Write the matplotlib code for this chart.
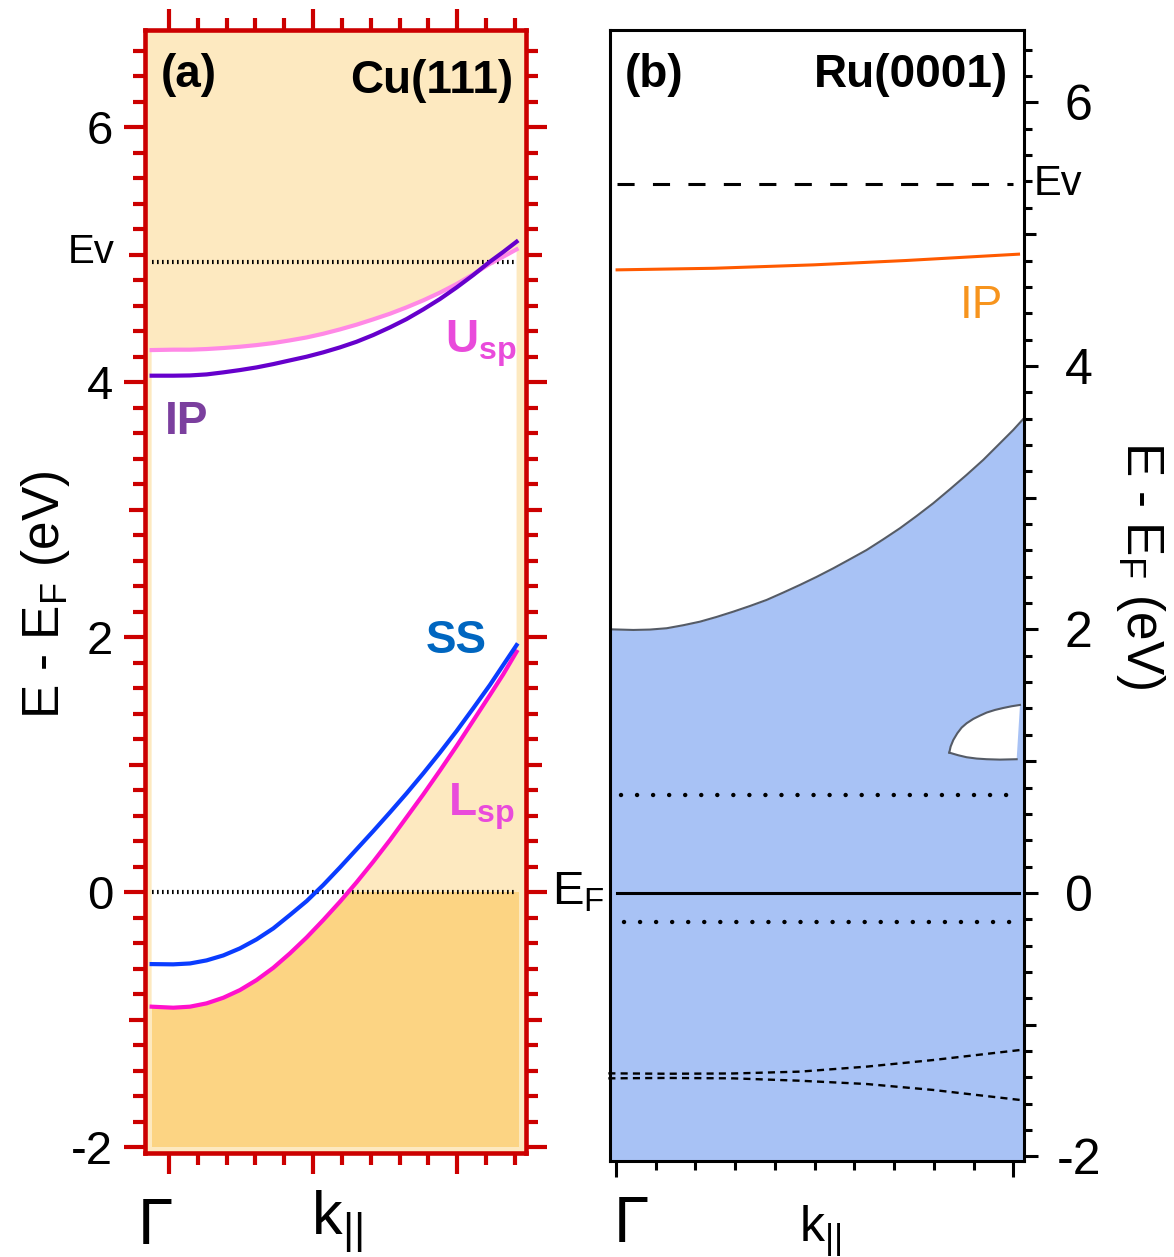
import numpy as np
import matplotlib.pyplot as plt
import matplotlib.transforms as mtransforms
from matplotlib.ticker import MultipleLocator

plt.rcParams['font.family'] = ['Liberation Sans', 'DejaVu Sans']
plt.rcParams['axes.unicode_minus'] = False
plt.rcParams['mathtext.fontset'] = 'custom'
plt.rcParams['mathtext.rm'] = 'Liberation Sans'

# ---- (a) Cu(111): bands (k in arb. units, Gamma = 0)
k_a = [-0.120, 0.030, 0.146, 0.261, 0.377, 0.492, 0.608, 0.724, 0.839, 0.955, 1.070, 1.186,
       1.301, 1.417, 1.533, 1.648, 1.764, 1.879, 1.995, 2.110, 2.226, 2.318, 2.411]
usp_e = [4.251, 4.254, 4.254, 4.259, 4.267, 4.277, 4.290, 4.306, 4.327, 4.350, 4.379, 4.413,
         4.450, 4.492, 4.536, 4.586, 4.641, 4.701, 4.769, 4.845, 4.928, 4.983, 5.041]
ipa_e = [4.050, 4.050, 4.052, 4.060, 4.076, 4.094, 4.115, 4.141, 4.170, 4.199, 4.233, 4.272,
         4.316, 4.369, 4.429, 4.494, 4.570, 4.651, 4.742, 4.839, 4.944, 5.020, 5.101]
ss_e = [-0.565, -0.567, -0.560, -0.536, -0.497, -0.442, -0.371, -0.285, -0.180, -0.071, 0.055,
        0.193, 0.335, 0.478, 0.625, 0.774, 0.931, 1.093, 1.263, 1.441, 1.624, 1.780, 1.937]
lsp_e = [-0.899, -0.907, -0.899, -0.873, -0.829, -0.769, -0.690, -0.594, -0.481, -0.356, -0.220,
         -0.076, 0.076, 0.238, 0.408, 0.586, 0.766, 0.952, 1.145, 1.344, 1.545, 1.707, 1.885]

ev_a = 4.94
ref_line_k_a = [-0.12, 2.40]
inner_k_a = [-0.12, 2.43]     # extent of the bulk-projected region
occ_e_a = [-2.0, 0.0]         # occupied part (below E_F)

# ---- (b) Ru(0001)
band_k = [-0.0148, 0.0439, 0.0858, 0.1277, 0.1696, 0.2116, 0.2535, 0.2954, 0.3374, 0.3793,
          0.4212, 0.4632, 0.5051, 0.5470, 0.5889, 0.6309, 0.6728, 0.7147, 0.7567, 0.7986,
          0.8405, 0.8824, 0.9244, 0.9663, 0.9998, 1.0267]
band_e = [2.001, 1.996, 1.999, 2.009, 2.032, 2.059, 2.095, 2.135, 2.178, 2.224,
          2.280, 2.338, 2.399, 2.464, 2.533, 2.603, 2.684, 2.768, 2.861, 2.958,
          3.064, 3.173, 3.287, 3.413, 3.514, 3.603]

pocket_up_k = [0.8388, 0.8422, 0.8489, 0.8590, 0.8699, 0.8825, 0.8993, 0.9160, 0.9328,
               0.9538, 0.9747, 0.9957, 1.0167]
pocket_up_e = [1.065, 1.111, 1.161, 1.212, 1.255, 1.288, 1.321, 1.346, 1.369,
               1.389, 1.404, 1.417, 1.427]
pocket_lo_k = [0.8388, 0.8615, 0.8825, 0.9077, 0.9328, 0.9664, 1.0083]
pocket_lo_e = [1.065, 1.045, 1.030, 1.020, 1.015, 1.012, 1.015]

ipb_k = [0.003, 0.246, 0.498, 0.730, 1.013]
ipb_e = [4.729, 4.741, 4.767, 4.800, 4.848]

dash_k = [-0.019, 0.128, 0.295, 0.463, 0.631, 0.798, 1.017]
dash_up_e = [-1.369, -1.372, -1.370, -1.356, -1.318, -1.268, -1.192]
dash_lo_e = [-1.407, -1.404, -1.407, -1.425, -1.450, -1.495, -1.571]

ev_b = 5.38
dot_levels_b = [0.74, -0.22]
dot_k_b = [[0.013, 1.0], [0.02, 1.0]]
ef_k_b = [0.003, 1.014]
ev_k_b = [0.003, 1.0]

ytick_vals = [-2, -1, 0, 1, 2, 3, 4, 5, 6]
ytick_labels = ['-2', '', '0', '', '2', '', '4', '', '6']

red = '#CC0000'
light_or = '#FDE9C0'
dark_or = '#FCD483'
blue_fill = '#A8C2F5'

fig = plt.figure(figsize=(11.74, 12.57), dpi=100)
ax_a = fig.add_axes([0.1235, 0.0827, 0.3245, 0.8934])
ax_b = fig.add_axes([0.5196, 0.0764, 0.3526, 0.8998])

# ================= panel (a)
ax = ax_a
ax.set_facecolor(light_or)
ax.set_xlim(-0.166, 2.476)
ax.set_ylim(-2.047, 6.761)
ax.fill_between(inner_k_a, occ_e_a[0], occ_e_a[1], color=dark_or, lw=0, zorder=1)
# projected band gap (white) between L_sp and U_sp
ax.fill(np.r_[k_a, k_a[::-1]], np.r_[lsp_e, usp_e[::-1]], color='white', lw=0, zorder=2)

ax.plot(ref_line_k_a, [ev_a, ev_a], color='black', lw=3, ls=(0, (0.4, 0.8)), zorder=3)
ax.plot(ref_line_k_a, [0, 0], color='black', lw=3, ls=(0, (0.4, 0.8)), zorder=3)
ax.plot(k_a, usp_e, color='#FF88E6', lw=3, zorder=4)
ax.plot(k_a, ipa_e, color='#6600CC', lw=3, zorder=5)
ax.plot(k_a, lsp_e, color='#FF10CC', lw=3, zorder=4)
ax.plot(k_a, ss_e, color='#0A3CFF', lw=3, zorder=5)

for s in ax.spines.values():
    s.set_color(red)
    s.set_linewidth(3.3)
ax.set_yticks(ytick_vals, ytick_labels)
ax.yaxis.set_minor_locator(MultipleLocator(0.2))
ax.set_xticks([0, 1, 2], ['', '', ''])
ax.xaxis.set_minor_locator(MultipleLocator(0.2))
ax.tick_params(which='both', direction='out', color=red, width=3,
               top=True, right=True, bottom=True, left=True)
ax.tick_params(which='major', length=15, pad=8, labelsize=34)
ax.tick_params(which='minor', length=8.5)
for t, v in zip(ax.yaxis.get_major_ticks(), ytick_vals):
    if v % 2:
        t.tick1line.set_markersize(11.5)
        t.tick2line.set_markersize(11.5)

bl = mtransforms.blended_transform_factory(ax.transData, ax.transAxes)
ax_y = mtransforms.blended_transform_factory(ax.transAxes, ax.transData)
ax.text(0.042, 0.949, '(a)', transform=ax.transAxes, fontsize=33, fontweight='bold')
ax.text(0.966, 0.944, 'Cu(111)', transform=ax.transAxes, fontsize=33,
        fontweight='bold', ha='right')
ax.text(2.413, 4.235, r'U$_{\mathregular{sp}}$', fontsize=33, fontweight='bold',
        color='#E94BDB', ha='right', va='baseline', zorder=6)
ax.text(2.40, 0.604, r'L$_{\mathregular{sp}}$', fontsize=33, fontweight='bold',
        color='#E94BDB', ha='right', va='baseline', zorder=6)
ax.text(2.205, 1.875, 'SS', fontsize=33, fontweight='bold', color='#0066C0',
        ha='right', va='baseline', zorder=6)
ax.text(-0.028, 3.59, 'IP', fontsize=33, fontweight='bold', color='#7B3F9E',
        va='baseline', zorder=6)
ax.text(-0.079, 5.02, 'Ev', transform=ax_y, fontsize=29, ha='right', va='center')
ax.text(1.068, 0.0, r'E$_{\mathregular{F}}$', transform=ax_y,
        fontsize=34, ha='left', va='center')
ax.text(-0.097, -0.081, 'Γ', transform=bl, fontsize=46, ha='center', va='baseline')
ax.text(0.985, -0.072, r'k$_{\mathregular{||}}$', transform=bl, fontsize=44,
        ha='left', va='baseline')

# ================= panel (b)
ax = ax_b
ax.set_xlim(-0.0148, 1.0267)
ax.set_ylim(-2.034, 6.55)
ybot = ax.get_ylim()[0]
ax.fill_between(band_k, band_e, ybot, color=blue_fill, lw=0, zorder=1)
ax.plot(band_k, band_e, color='#555B66', lw=1.5, zorder=2)
ax.fill(np.r_[pocket_up_k, pocket_lo_k[::-1]], np.r_[pocket_up_e, pocket_lo_e[::-1]],
        color='white', lw=0, zorder=2)
ax.plot(pocket_up_k, pocket_up_e, color='#555B66', lw=1.5, zorder=3)
ax.plot(pocket_lo_k, pocket_lo_e, color='#555B66', lw=1.5, zorder=3)

ax.plot(ev_k_b, [ev_b, ev_b], color='black', lw=2.2, ls=(0, (5.6, 6.0)), zorder=3)
ax.plot(ipb_k, ipb_e, color='#FF5A00', lw=2.2, zorder=3)
ax.plot(ef_k_b, [0, 0], color='black', lw=2.2, zorder=3)
for lev, kk in zip(dot_levels_b, dot_k_b):
    ax.plot(kk, [lev, lev], color='black', lw=3.2, ls=(0, (0.01, 3.6)),
            dash_capstyle='round', zorder=3)
ax.plot(dash_k, dash_up_e, color='black', lw=1.7, ls=(0, (3.0, 2.2)), zorder=3, clip_on=False)
ax.plot(dash_k, dash_lo_e, color='black', lw=1.7, ls=(0, (3.0, 2.2)), zorder=3, clip_on=False)

for s in ax.spines.values():
    s.set_color('black')
    s.set_linewidth(2.2)
ax.yaxis.tick_right()
ax.set_yticks(ytick_vals, ytick_labels)
ax.yaxis.set_minor_locator(MultipleLocator(0.2))
ax.set_xticks([0, 1], ['', ''])
ax.xaxis.set_minor_locator(MultipleLocator(0.1))
ax.tick_params(which='both', direction='out', color='black', width=2.2,
               top=False, left=False, right=True, bottom=True)
ax.tick_params(axis='y', which='major', length=10, pad=29.5, labelsize=36)
ax.tick_params(axis='y', which='minor', length=5.5)
ax.tick_params(axis='x', which='major', length=11.5)
ax.tick_params(axis='x', which='minor', length=6.5)
for lab in ax.get_yticklabels():
    lab.set_horizontalalignment('center')
for t, v in zip(ax.yaxis.get_major_ticks(), ytick_vals):
    if v % 2:
        t.tick1line.set_markersize(8.3)
        t.tick2line.set_markersize(8.3)

bl = mtransforms.blended_transform_factory(ax.transData, ax.transAxes)
ax_y = mtransforms.blended_transform_factory(ax.transAxes, ax.transData)
ax.text(0.036, 0.9496, '(b)', transform=ax.transAxes, fontsize=33, fontweight='bold')
ax.text(0.961, 0.9496, 'Ru(0001)', transform=ax.transAxes, fontsize=33,
        fontweight='bold', ha='right')
ax.text(0.975, 4.364, 'IP', fontsize=33, color='#F7941D', ha='right', va='baseline')
ax.text(1.024, ev_b, 'Ev', transform=ax_y, fontsize=30, ha='left', va='center')
ax.text(0.039, -0.0716, 'Γ', transform=bl, fontsize=46, ha='center', va='baseline')
ax.text(0.46, -0.0716, r'k$_{\mathregular{||}}$', transform=bl, fontsize=36,
        ha='left', va='baseline')

fig.text(45 / 1174, 1 - 595 / 1257, r'E - E$_{\mathregular{F}}$ (eV)', fontsize=37,
         rotation=90, ha='center', va='center')
fig.text(1141 / 1174, 1 - 565 / 1257, r'E - E$_{\mathregular{F}}$ (eV)', fontsize=37,
         rotation=270, ha='center', va='center')

fig.savefig('out.png', dpi=100)
